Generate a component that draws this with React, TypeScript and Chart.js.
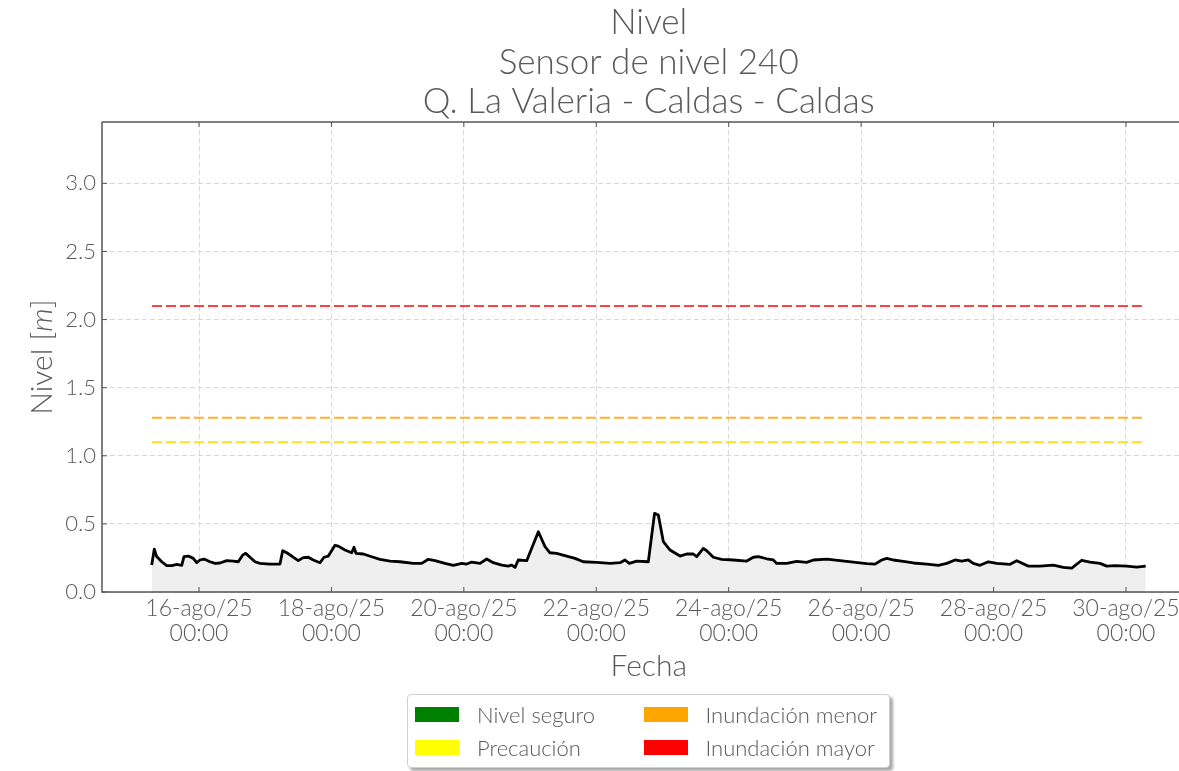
import React, { useEffect, useRef } from "react";
import { Chart, registerables } from "chart.js";

Chart.register(...registerables);

// ---------- data ----------
const TITLE_LINES = ["Nivel", "Sensor de nivel 240", "Q. La Valeria - Caldas - Caldas"];
const X_TITLE = "Fecha";
const Y_TITLE_PARTS = ["Nivel [", "m", "]"];

// time in days since 16-ago/25 00:00
const TIME_DAYS = [
  -0.714, -0.675, -0.639, -0.563, -0.488, -0.412, -0.337, -0.261, -0.227, -0.162,
  -0.086, -0.035, 0.015, 0.076, 0.166, 0.242, 0.317, 0.418, 0.518, 0.594,
  0.66, 0.705, 0.77, 0.846, 0.921, 1.072, 1.223, 1.264, 1.325, 1.4,
  1.5, 1.575, 1.651, 1.726, 1.827, 1.888, 1.953, 2.054, 2.104, 2.205,
  2.306, 2.341, 2.371, 2.482, 2.608, 2.734, 2.885, 3.036, 3.237, 3.364,
  3.463, 3.564, 3.715, 3.841, 3.968, 4.043, 4.119, 4.244, 4.345, 4.445,
  4.572, 4.672, 4.723, 4.773, 4.822, 4.949, 5.125, 5.226, 5.301, 5.402,
  5.553, 5.679, 5.804, 6.007, 6.208, 6.359, 6.434, 6.499, 6.611, 6.786,
  6.88, 6.937, 7.013, 7.114, 7.265, 7.366, 7.466, 7.517, 7.617, 7.668,
  7.768, 7.894, 8.07, 8.272, 8.372, 8.447, 8.574, 8.674, 8.725, 8.876,
  9.027, 9.178, 9.278, 9.48, 9.681, 9.882, 10.084, 10.21, 10.311, 10.387,
  10.486, 10.637, 10.788, 10.991, 11.166, 11.293, 11.418, 11.519, 11.619, 11.694,
  11.796, 11.921, 12.048, 12.249, 12.35, 12.525, 12.702, 12.903, 13.054, 13.181,
  13.332, 13.457, 13.608, 13.709, 13.835, 14.012, 14.163, 14.298,
];

const NIVEL_M = [
  0.198, 0.315, 0.26, 0.222, 0.193, 0.193, 0.203, 0.196, 0.26, 0.264,
  0.247, 0.215, 0.235, 0.242, 0.222, 0.21, 0.213, 0.23, 0.227, 0.222,
  0.271, 0.284, 0.255, 0.222, 0.21, 0.205, 0.205, 0.303, 0.288, 0.264,
  0.23, 0.252, 0.255, 0.235, 0.215, 0.255, 0.264, 0.343, 0.337, 0.308,
  0.288, 0.328, 0.284, 0.279, 0.259, 0.24, 0.227, 0.222, 0.21, 0.21,
  0.24, 0.23, 0.21, 0.196, 0.21, 0.205, 0.22, 0.21, 0.242, 0.215,
  0.198, 0.19, 0.198, 0.181, 0.235, 0.23, 0.442, 0.333, 0.288, 0.284,
  0.264, 0.247, 0.222, 0.218, 0.21, 0.215, 0.235, 0.21, 0.227, 0.222,
  0.577, 0.565, 0.369, 0.308, 0.264, 0.279, 0.279, 0.259, 0.32, 0.303,
  0.255, 0.24, 0.235, 0.227, 0.255, 0.259, 0.244, 0.235, 0.21, 0.21,
  0.225, 0.218, 0.235, 0.242, 0.23, 0.22, 0.208, 0.205, 0.235, 0.247,
  0.235, 0.225, 0.213, 0.205, 0.196, 0.21, 0.235, 0.227, 0.235, 0.21,
  0.196, 0.222, 0.21, 0.203, 0.23, 0.19, 0.19, 0.198, 0.181, 0.176,
  0.233, 0.22, 0.21, 0.19, 0.193, 0.19, 0.183, 0.19,
];

const X_TICK_VALUES = [0, 2, 4, 6, 8, 10, 12, 14];
const X_TICK_LABELS = [
  ["16-ago/25", "00:00"],
  ["18-ago/25", "00:00"],
  ["20-ago/25", "00:00"],
  ["22-ago/25", "00:00"],
  ["24-ago/25", "00:00"],
  ["26-ago/25", "00:00"],
  ["28-ago/25", "00:00"],
  ["30-ago/25", "00:00"],
];
const Y_TICK_VALUES = [0, 0.5, 1.0, 1.5, 2.0, 2.5, 3.0];

const THRESHOLD_NAMES = ["Precaución", "Inundación menor", "Inundación mayor"];
const THRESHOLD_VALUES = [1.1, 1.28, 2.1];
const THRESHOLD_COLORS = ["rgba(255,215,0,0.85)", "rgba(255,165,0,0.85)", "rgba(255,0,0,0.75)"];
const THRESHOLD_SPAN = [-0.71, 14.24];

const LEGEND_LABELS = ["Nivel seguro", "Precaución", "Inundación menor", "Inundación mayor"];
const LEGEND_COLORS = ["#008000", "#ffff00", "#ffa500", "#ff0000"];

const X_RANGE = [-1.465, 15.05];
const Y_RANGE = [0, 3.45];

// ---------- style ----------
const FONT = "Lato";
const TEXT_COLOR = "#595959";
const SPINE_COLOR = "#555555";
const GRID_COLOR = "#d9d9d9";

const frameAndLabels = {
  id: "frameAndLabels",
  afterDatasetsDraw(chart: any) {
    const { ctx, chartArea, scales } = chart;
    const { left, right, top, bottom } = chartArea;
    ctx.save();
    ctx.setLineDash([]);
    ctx.strokeStyle = SPINE_COLOR;
    ctx.lineWidth = 1.5;
    ctx.beginPath();
    ctx.moveTo(left, top);
    ctx.lineTo(right, top);
    ctx.moveTo(left, top);
    ctx.lineTo(left, bottom);
    ctx.lineTo(right, bottom);
    ctx.stroke();
    ctx.lineWidth = 1;
    ctx.beginPath();
    for (const v of Y_TICK_VALUES) {
      const y = scales.y.getPixelForValue(v);
      ctx.moveTo(left, y);
      ctx.lineTo(left + 5, y);
    }
    for (const v of X_TICK_VALUES) {
      const x = scales.x.getPixelForValue(v);
      ctx.moveTo(x, bottom);
      ctx.lineTo(x, bottom - 5);
      ctx.moveTo(x, top);
      ctx.lineTo(x, top + 5);
    }
    ctx.stroke();

    // y axis title with italic unit
    const cx = left - 60;
    const cy = (top + bottom) / 2;
    ctx.translate(cx, cy);
    ctx.rotate(-Math.PI / 2);
    ctx.fillStyle = TEXT_COLOR;
    ctx.textBaseline = "middle";
    ctx.textAlign = "left";
    const fonts = [`300 30px ${FONT}`, `italic 300 30px ${FONT}`, `300 30px ${FONT}`];
    const widths = Y_TITLE_PARTS.map((t, i) => {
      ctx.font = fonts[i];
      return ctx.measureText(t).width;
    });
    let x = -widths.reduce((a, b) => a + b, 0) / 2;
    Y_TITLE_PARTS.forEach((t, i) => {
      ctx.font = fonts[i];
      ctx.fillText(t, x, 0);
      x += widths[i];
    });
    ctx.restore();
  },
};

export default function App() {
  const canvasRef = useRef<HTMLCanvasElement | null>(null);

  useEffect(() => {
    const canvas = canvasRef.current;
    if (!canvas) return;
    const points = TIME_DAYS.map((t, i) => ({ x: t, y: NIVEL_M[i] }));
    const thresholdSets = THRESHOLD_VALUES.map((v, i) => ({
      label: THRESHOLD_NAMES[i],
      data: THRESHOLD_SPAN.map((t) => ({ x: t, y: v })),
      borderColor: THRESHOLD_COLORS[i],
      borderWidth: 2,
      borderDash: [10, 4],
      pointRadius: 0,
      fill: false,
    }));

    const chart = new Chart(canvas, {
      type: "line",
      data: {
        datasets: [
          {
            label: "Nivel",
            data: points,
            borderColor: "#000000",
            borderWidth: 2.8,
            backgroundColor: "#efefef",
            fill: "origin",
            pointRadius: 0,
            tension: 0,
            borderJoinStyle: "round",
          },
          ...thresholdSets,
        ] as any,
      },
      options: {
        responsive: false,
        animation: false,
        layout: { padding: { left: 0, right: 24.5, top: 0, bottom: 89 } },
        plugins: {
          legend: { display: false },
          tooltip: { enabled: false },
          title: {
            display: true,
            text: TITLE_LINES,
            fullSize: false,
            color: TEXT_COLOR,
            font: { family: FONT, size: 35, weight: "300" as any, lineHeight: 1.13 },
            padding: { top: 3, bottom: 0.4 },
          },
        },
        scales: {
          x: {
            type: "linear",
            min: X_RANGE[0],
            max: X_RANGE[1],
            afterBuildTicks: (scale: any) => {
              scale.ticks = X_TICK_VALUES.map((v) => ({ value: v }));
            },
            afterFit: (scale: any) => {
              scale.height = 90;
            },
            ticks: {
              autoSkip: false,
              maxRotation: 0,
              minRotation: 0,
              padding: 4,
              color: TEXT_COLOR,
              font: { family: FONT, size: 23, weight: "300" as any, lineHeight: 1.09 },
              callback: (_v: any, i: number) => X_TICK_LABELS[i],
            },
            grid: {
              color: GRID_COLOR,
              lineWidth: 1,
              drawTicks: false,
            },
            border: { display: false, dash: [5, 3] },
            title: {
              display: true,
              text: X_TITLE,
              color: TEXT_COLOR,
              font: { family: FONT, size: 30, weight: "300" as any, lineHeight: 1.0 },
              padding: { top: 0, bottom: 1 },
            },
          },
          y: {
            type: "linear",
            min: Y_RANGE[0],
            max: Y_RANGE[1],
            afterBuildTicks: (scale: any) => {
              scale.ticks = Y_TICK_VALUES.map((v) => ({ value: v }));
            },
            afterFit: (scale: any) => {
              scale.width = 102;
            },
            ticks: {
              padding: 6,
              color: TEXT_COLOR,
              font: { family: FONT, size: 22, weight: "300" as any },
              callback: (v: any) => Number(v).toFixed(1),
            },
            grid: {
              color: GRID_COLOR,
              lineWidth: 1,
              drawTicks: false,
            },
            border: { display: false, dash: [5, 3] },
          },
        },
      },
      plugins: [frameAndLabels],
    } as any);

    return () => chart.destroy();
  }, []);

  return (
    <div
      style={{
        position: "fixed",
        left: 0,
        top: 0,
        width: 1179,
        height: 771,
        overflow: "hidden",
        background: "#ffffff",
        fontFamily: FONT,
      }}
    >
      <canvas ref={canvasRef} width={1220} height={771} style={{ width: 1220, height: 771, display: "block" }} />
      <div
        style={{
          position: "absolute",
          left: 407,
          top: 694,
          width: 483,
          height: 74,
          boxSizing: "border-box",
          border: "1px solid #d0d0d0",
          borderRadius: 4,
          background: "#ffffff",
          boxShadow: "3px 3px 3px rgba(0,0,0,0.35)",
        }}
      >
        {LEGEND_LABELS.map((label, i) => {
          const col = Math.floor(i / 2);
          const row = i % 2;
          return (
            <div
              key={label}
              style={{
                position: "absolute",
                left: 7 + col * 228.5,
                top: 3 + row * 33,
                height: 32,
                display: "flex",
                alignItems: "center",
                whiteSpace: "nowrap",
              }}
            >
              <span
                style={{
                  display: "inline-block",
                  width: 44,
                  height: 15,
                  background: LEGEND_COLORS[i],
                  marginRight: 18,
                }}
              />
              <span style={{ fontSize: 22, fontWeight: 300, color: TEXT_COLOR }}>{label}</span>
            </div>
          );
        })}
      </div>
    </div>
  );
}
